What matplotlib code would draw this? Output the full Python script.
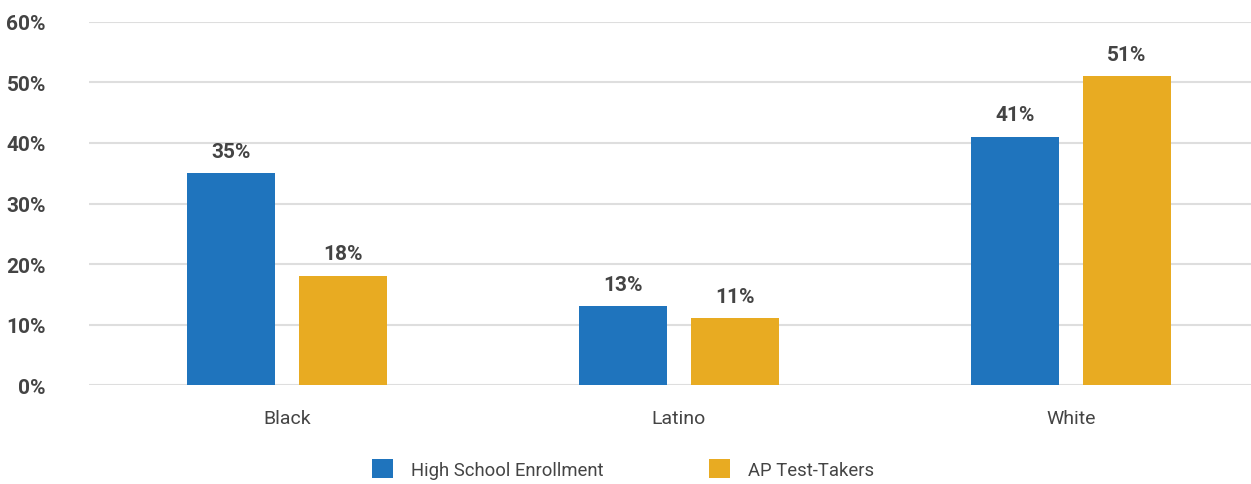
import numpy as np
import matplotlib
matplotlib.use('Agg')
import matplotlib.pyplot as plt
from matplotlib.patches import Patch

# Data
groups = ["Black", "Latino", "White"]
enrollment = [35, 13, 41]
ap_takers = [18, 11, 51]
series_names = ["High School Enrollment", "AP Test-Takers"]
colors = ["#1f74bd", "#e8ab22"]
yticks = [0, 10, 20, 30, 40, 50, 60]

plt.rcParams['font.family'] = ['Roboto', 'DejaVu Sans']
text_color = "#444444"

fig = plt.figure(figsize=(12.51, 4.85), dpi=100)
ax = fig.add_axes([0.0711, 0.2041, 0.9289, 0.7485])

x = np.arange(len(groups))
width = 0.2245
offset = 0.143

for vals, off, col in [(enrollment, -offset, colors[0]), (ap_takers, offset, colors[1])]:
    bars = ax.bar(x + off, vals, width, color=col, zorder=3)
    for b, v in zip(bars, vals):
        ax.text(b.get_x() + b.get_width() / 2, v + 2.1, f"{v}%", ha='center', va='bottom',
                fontsize=15, fontweight='bold', color=text_color)

ax.set_xlim(-0.505, 2.459)
ax.set_ylim(0, 60)
ax.set_yticks(yticks)
ax.set_yticklabels([f"{t}%" for t in yticks], fontsize=15, fontweight='bold', color=text_color)
ax.set_xticks(x)
ax.set_xticklabels(groups, fontsize=14, color=text_color)
ax.tick_params(axis='y', length=0, pad=31)
ax.tick_params(axis='x', length=0, pad=17)
ax.grid(axis='y', color='#dedede', linewidth=1.5, zorder=0)
for s in ax.spines.values():
    s.set_visible(False)

handles = [Patch(facecolor=c, label=n) for c, n in zip(colors, series_names)]
leg = fig.legend(handles=handles, loc='center', bbox_to_anchor=(0.498, 0.031), ncol=2,
                 frameon=False, fontsize=13.3, handlelength=1.15, handleheight=1.15,
                 columnspacing=5.7, handletextpad=0.95)
for t in leg.get_texts():
    t.set_color(text_color)

fig.savefig("out.png", dpi=100)
